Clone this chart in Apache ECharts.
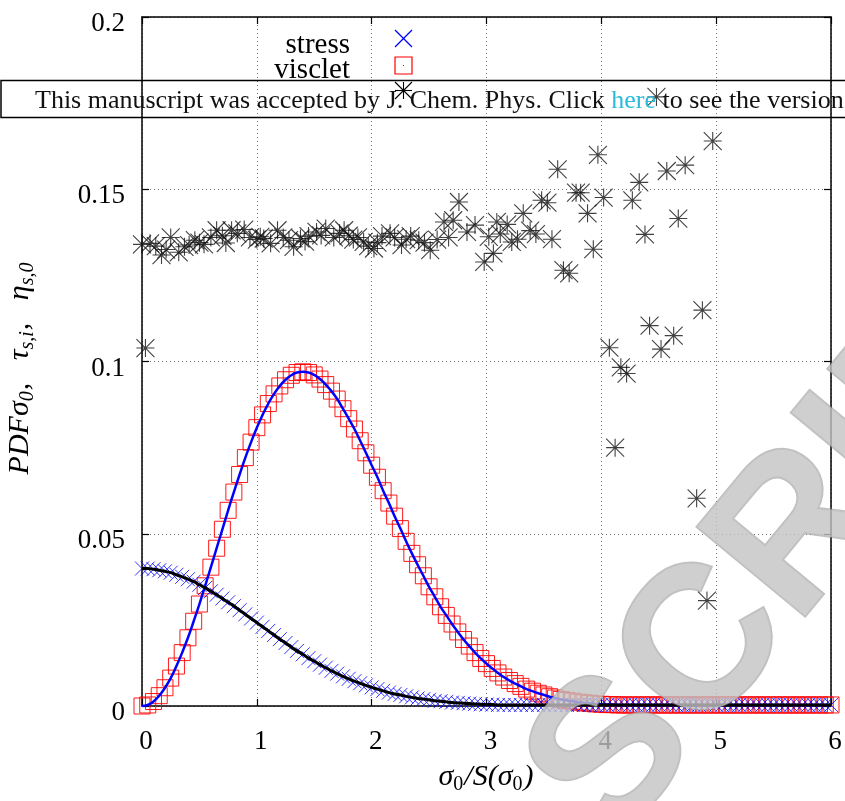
<!DOCTYPE html>
<html>
<head>
<meta charset="utf-8">
<script src="https://cdn.jsdelivr.net/npm/echarts@6/dist/echarts.min.js"></script>
<style>html,body{margin:0;padding:0;background:#fff;}#c{width:845px;height:801px;}</style>
</head>
<body>
<div id="c"></div>
<script>
// x step of the sampled histograms (sigma0/S(sigma0))
const xStep = 0.05;
// stress PDF (blue crosses), x = 0 .. 6 in steps of 0.05
const stressVals = [
0.0399,0.0399,0.0397,0.0394,0.0391,0.0387,0.0381,0.0375,0.0368,0.0361,
0.0352,0.0343,0.0333,0.0323,0.0312,0.0301,0.0290,0.0278,0.0266,0.0254,
0.0242,0.0230,0.0218,0.0206,0.0194,0.0183,0.0171,0.0160,0.0150,0.0139,
0.0130,0.0120,0.0111,0.0102,0.0094,0.0086,0.0079,0.0072,0.0066,0.0060,
0.0054,0.0049,0.0044,0.0039,0.0035,0.0032,0.0028,0.0025,0.0022,0.0020,
0.0018,0.0015,0.0014,0.0012,0.0010,0.0009,0.0008,0.0007,0.0006,0.0005,
0.0004,0.0004,0.0003,0.0003,0.0003,0.0003,0.0003,0.0003,0.0003,0.0003,
0.0003,0.0003,0.0003,0.0003,0.0003,0.0003,0.0003,0.0003,0.0003,0.0003,
0.0003,0.0003,0.0003,0.0003,0.0003,0.0003,0.0003,0.0003,0.0003,0.0003,
0.0003,0.0003,0.0003,0.0003,0.0003,0.0003,0.0003,0.0003,0.0003,0.0003,
0.0003,0.0003,0.0003,0.0003,0.0003,0.0003,0.0003,0.0003,0.0003,0.0003,
0.0003,0.0003,0.0003,0.0003,0.0003,0.0003,0.0003,0.0003,0.0003,0.0003,
0.0003];
// visclet PDF (red squares)
const viscletVals = [
0.0000,0.0003,0.0013,0.0030,0.0053,0.0081,0.0116,0.0155,0.0198,0.0246,
0.0296,0.0349,0.0403,0.0458,0.0513,0.0568,0.0621,0.0672,0.0721,0.0766,
0.0808,0.0845,0.0878,0.0906,0.0929,0.0947,0.0960,0.0968,0.0970,0.0968,
0.0961,0.0949,0.0933,0.0914,0.0891,0.0863,0.0834,0.0804,0.0770,0.0735,
0.0699,0.0664,0.0625,0.0589,0.0551,0.0515,0.0478,0.0443,0.0410,0.0378,
0.0346,0.0317,0.0288,0.0263,0.0238,0.0215,0.0193,0.0174,0.0155,0.0138,
0.0123,0.0109,0.0096,0.0084,0.0074,0.0065,0.0057,0.0049,0.0043,0.0037,
0.0032,0.0027,0.0023,0.0019,0.0016,0.0014,0.0011,0.0009,0.0008,0.0006,
0.0005,0.0004,0.0004,0.0003,0.0003,0.0003,0.0003,0.0003,0.0003,0.0003,
0.0003,0.0003,0.0003,0.0003,0.0003,0.0003,0.0003,0.0003,0.0003,0.0003,
0.0003,0.0003,0.0003,0.0003,0.0003,0.0003,0.0003,0.0003,0.0003,0.0003,
0.0003,0.0003,0.0003,0.0003,0.0003,0.0003,0.0003,0.0003,0.0003,0.0003,
0.0003];
// eta_s,0 points (black asterisks): x values and y values
const etaX = [0.00,0.03,0.07,0.12,0.17,0.21,0.25,0.32,0.37,0.41,0.46,0.50,0.54,0.60,0.65,0.70,0.73,0.78,0.83,0.89,
0.94,1.00,1.03,1.06,1.12,1.18,1.23,1.28,1.32,1.38,1.42,1.45,1.52,1.56,1.60,1.67,1.72,1.76,1.80,1.84,
1.88,1.93,1.97,2.02,2.05,2.09,2.16,2.20,2.26,2.30,2.34,2.41,2.46,2.51,2.57,2.63,2.67,2.71,2.76,2.83,
2.90,2.98,3.02,3.06,3.09,3.12,3.18,3.22,3.27,3.32,3.38,3.43,3.48,3.53,3.57,3.62,3.67,3.72,3.78,3.82,
3.88,3.93,3.97,4.02,4.07,4.12,4.17,4.22,4.27,4.33,4.38,4.42,4.48,4.52,4.57,4.63,4.67,4.73,4.83,4.88,
4.92,4.97];
const etaY = [0.1340,0.1039,0.1343,0.1335,0.1309,0.1325,0.1360,0.1317,0.1333,0.1338,0.1352,0.1345,0.1340,0.1360,0.1381,0.1365,0.1344,0.1381,0.1372,0.1383,
0.1360,0.1354,0.1362,0.1357,0.1343,0.1381,0.1360,0.1352,0.1333,0.1357,0.1348,0.1364,0.1376,0.1366,0.1386,0.1360,0.1372,0.1381,0.1365,0.1354,
0.1360,0.1347,0.1335,0.1328,0.1345,0.1364,0.1372,0.1360,0.1338,0.1355,0.1364,0.1352,0.1345,0.1323,0.1354,0.1405,0.1360,0.1410,0.1463,0.1376,
0.1396,0.1289,0.1362,0.1314,0.1405,0.1370,0.1398,0.1347,0.1355,0.1430,0.1380,0.1370,0.1468,0.1461,0.1355,0.1558,0.1265,0.1256,0.1490,0.1490,
0.1430,0.1326,0.1600,0.1476,0.1040,0.0750,0.0983,0.0965,0.1468,0.1520,0.1369,0.1104,0.1768,0.1036,0.1553,0.1075,0.1415,0.1570,0.0603,0.1149,
0.0306,0.1640];
const xTicks = [0,1,2,3,4,5,6];
const yTicks = [0,0.05,0.1,0.15,0.2];
const legendNames = ['stress','visclet',''];

const xs = stressVals.map((_, i) => +(i * xStep).toFixed(2));
const stressData = stressVals.map((v, i) => [xs[i], v]);
const viscletData = viscletVals.map((v, i) => [xs[i], v]);
const etaData = etaX.map((x, i) => [x, etaY[i]]);

const SERIF = '"Liberation Serif", "Times New Roman", serif';
const crossPath = 'path://M0,0L10,10M0,10L10,0';
const starPath = 'path://M5,0L5,10M0,5L10,5M0,0L10,10M0,10L10,0';

const chart = echarts.init(document.getElementById('c'), null, {renderer: 'canvas'});
const axisCommon = {
  type: 'value',
  axisLine: {onZero: false, lineStyle: {color: '#000', width: 1.5}},
  axisTick: {inside: true, length: 7, lineStyle: {color: '#000', width: 1.2}},
};
chart.setOption({
  animation: false,
  backgroundColor: '#fff',
  grid: {left: 142, right: 14, top: 17, bottom: 95, containLabel: false},
  xAxis: [
    Object.assign({}, axisCommon, {
      min: xTicks[0], max: xTicks[xTicks.length - 1], interval: 1, position: 'bottom',
      axisLabel: {fontFamily: SERIF, fontSize: 27, color: '#000', margin: 22, padding: [0, 0, 0, 8]},
      splitLine: {show: true, lineStyle: {color: '#777', type: [1, 3], width: 1}}
    }),
    Object.assign({}, axisCommon, {
      min: xTicks[0], max: xTicks[xTicks.length - 1], interval: 1, position: 'top',
      axisLabel: {show: false}, splitLine: {show: false}
    })
  ],
  yAxis: [
    Object.assign({}, axisCommon, {
      min: yTicks[0], max: yTicks[yTicks.length - 1], interval: 0.05, position: 'left',
      axisLabel: {color: '#000', margin: 17,
        formatter: v => '{a|' + String(+v.toFixed(2)) + '}',
        rich: {a: {fontFamily: SERIF, fontSize: 27, color: '#000', padding: [14, 0, 0, 0]}}},
      splitLine: {show: true, lineStyle: {color: '#777', type: [1, 3], width: 1}}
    }),
    Object.assign({}, axisCommon, {
      min: yTicks[0], max: yTicks[yTicks.length - 1], interval: 0.05, position: 'right',
      axisLabel: {show: false}, splitLine: {show: false}
    })
  ],
  series: [
    {
      name: legendNames[1], type: 'scatter', data: viscletData, symbol: 'rect', symbolSize: 16,
      itemStyle: {color: 'rgba(0,0,0,0)', borderColor: '#ff0000', borderWidth: 1, opacity: 0.9}, z: 2
    },
    {
      name: legendNames[0], type: 'scatter', data: stressData, symbol: crossPath, symbolSize: 14,
      itemStyle: {color: 'rgba(0,0,0,0)', borderColor: '#0000ff', borderWidth: 1}, z: 3
    },
    {
      name: 'visclet fit', type: 'line', data: viscletData, showSymbol: false, smooth: true,
      lineStyle: {color: '#0000ff', width: 2.5}, z: 4
    },
    {
      name: 'stress fit', type: 'line', data: stressData, showSymbol: false, smooth: true,
      lineStyle: {color: '#000', width: 3}, z: 5
    },
    {
      name: 'eta', type: 'scatter', data: etaData, symbol: starPath, symbolSize: 18,
      itemStyle: {color: 'rgba(0,0,0,0)', borderColor: '#111', borderWidth: 1.1}, z: 7
    }
  ],
  graphic: [
    // watermark
    {
      type: 'text', z: 6, x: 811, y: 521, rotation: 0.88, silent: true,
      style: {text: 'SCRIPT', fontFamily: '"Liberation Sans", Arial, sans-serif', fontWeight: 'bold', fontSize: 205,
        fill: 'rgba(195,195,195,0.8)', stroke: 'rgba(140,140,140,0.55)', lineWidth: 2,
        align: 'center', verticalAlign: 'middle'}
    },
    // legend
    {type: 'text', x: 350, y: 45, z: 20, style: {text: 'stress', fontFamily: SERIF, fontSize: 29, fill: '#000', align: 'right', verticalAlign: 'middle'}},
    {type: 'text', x: 350, y: 70, z: 20, style: {text: 'visclet', fontFamily: SERIF, fontSize: 29, fill: '#000', align: 'right', verticalAlign: 'middle'}},
    {type: 'polyline', z: 20, shape: {points: [[395, 30], [412, 47]]}, style: {stroke: '#0000ff', lineWidth: 1.2}},
    {type: 'polyline', z: 20, shape: {points: [[395, 47], [412, 30]]}, style: {stroke: '#0000ff', lineWidth: 1.2}},
    {type: 'rect', z: 20, shape: {x: 395, y: 57, width: 17, height: 17}, style: {stroke: '#ff0000', fill: 'none', lineWidth: 1.2}},
    {type: 'rect', z: 20, shape: {x: 403, y: 65, width: 1, height: 1}, style: {fill: '#ff0000'}},
    {type: 'polyline', z: 20, shape: {points: [[403.5, 82], [403.5, 99]]}, style: {stroke: '#000', lineWidth: 1.1}},
    {type: 'polyline', z: 20, shape: {points: [[395, 90.5], [412, 90.5]]}, style: {stroke: '#000', lineWidth: 1.1}},
    {type: 'polyline', z: 20, shape: {points: [[395, 82], [412, 99]]}, style: {stroke: '#000', lineWidth: 1.1}},
    {type: 'polyline', z: 20, shape: {points: [[395, 99], [412, 82]]}, style: {stroke: '#000', lineWidth: 1.1}},
    // axis titles
    {
      type: 'text', x: 486, y: 777, z: 20,
      style: {
        text: '{i|σ}{s|0}{i|/S(σ}{s|0}{i|)}', align: 'center', verticalAlign: 'middle',
        rich: {
          i: {fontFamily: SERIF, fontStyle: 'italic', fontSize: 30, fill: '#000', lineHeight: 36, verticalAlign: 'middle'},
          s: {fontFamily: SERIF, fontSize: 20, fill: '#000', lineHeight: 36, verticalAlign: 'bottom', padding: [0, 1, 0, 0]}
        }
      }
    },
    {
      type: 'text', x: 20, y: 368, z: 20, rotation: Math.PI / 2,
      style: {
        text: '{i|PDFσ}{s|0}{i|,   τ}{s|s,i}{i|,   η}{s|s,0}', align: 'center', verticalAlign: 'middle',
        rich: {
          i: {fontFamily: SERIF, fontStyle: 'italic', fontSize: 30, fill: '#000', lineHeight: 36, verticalAlign: 'middle'},
          s: {fontFamily: SERIF, fontStyle: 'italic', fontSize: 20, fill: '#000', lineHeight: 36, verticalAlign: 'bottom', padding: [0, 1, 0, 0]}
        }
      }
    },
    // banner
    {type: 'rect', z: 30, shape: {x: 1, y: 80.5, width: 860, height: 37}, style: {stroke: '#000', fill: 'none', lineWidth: 1.5}},
    {
      type: 'text', x: 35, y: 101, z: 30,
      style: {
        text: '{a|This manuscript was accepted by J. Chem. Phys. Click }{b|here}{a| to see the version}',
        verticalAlign: 'middle', align: 'left',
        rich: {
          a: {fontFamily: SERIF, fontSize: 26, fill: '#111'},
          b: {fontFamily: SERIF, fontSize: 26, fill: '#2bbbd8'}
        }
      }
    }
  ]
});
</script>
</body>
</html>
